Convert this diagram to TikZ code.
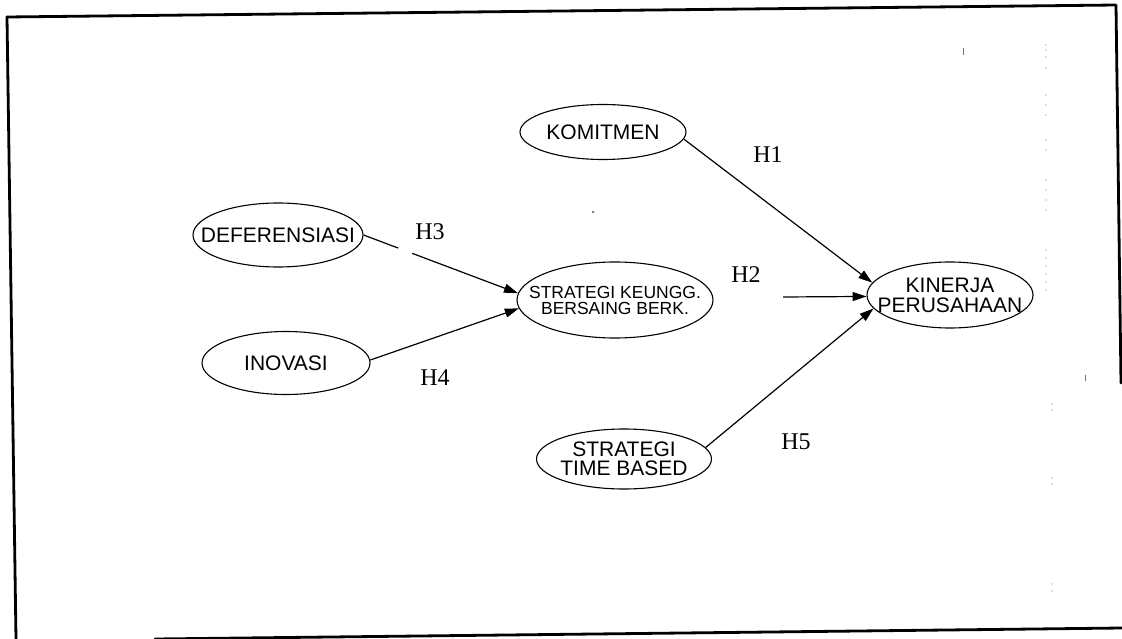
\documentclass[tikz,border=0pt]{standalone}
\usepackage{fontspec}
\setmainfont{Liberation Serif}
\newfontfamily\arialf{Liberation Sans}
\usetikzlibrary{arrows.meta,shapes.geometric}
\begin{document}
\begin{tikzpicture}[x=1pt,y=-1pt,
  ell/.style={draw, ellipse, line width=1.1pt, inner sep=-200pt, align=center,
    font=\arialf\fontsize{21}{20}\selectfont},
  arr/.style={line width=1.2pt, -{Triangle[length=14pt,width=9pt]}},
  hyp/.style={inner sep=0pt, font=\fontsize{24}{26}\selectfont},
  frameline/.style={line width=2.8pt, line cap=round, line join=round},
  speck/.style={fill=black!55}
]
\useasboundingbox (0,0) rectangle (1122,639);

% frame (slightly skewed scan)
\draw[frameline] (7,17) -- (1116,5) -- (1121,383);
\draw[frameline] (7,17) -- (16,639);
\draw[frameline] (155,639) -- (1122,628);

% nodes
\node[ell, minimum width=166pt, minimum height=55pt] (kom) at (603,132) {KOMITMEN};
\node[ell, minimum width=170pt, minimum height=64pt] (def) at (278,235) {DEFERENSIASI};
\node[ell, minimum width=168pt, minimum height=63pt] (ino) at (286,363) {INOVASI};
\node[ell, minimum width=196pt, minimum height=76pt,
      font=\arialf\fontsize{17.5}{16}\selectfont] (sk) at (615,300) {STRATEGI KEUNGG.\\BERSAING BERK.};
\node[ell, minimum width=166pt, minimum height=66pt] (kin) at (950,295) {KINERJA\\PERUSAHAAN};
\node[ell, minimum width=175pt, minimum height=60pt,
      font=\arialf\fontsize{21}{19.5}\selectfont] (stb) at (624,459) {STRATEGI\\TIME BASED};

% connectors
\coordinate (h2s) at (783,297);
\draw[arr] (kom.-5) -- (kin.171);
\draw[arr] (h2s) -- (kin.181);
\draw[arr] (stb.8) -- (kin.190);
\draw[arr, dash pattern=on 37pt off 15pt on 400pt] (def.0) -- (sk.176);
\draw[arr] (ino.2) -- (sk.185);

% hypothesis labels
\node[hyp] (h1) at (768,155) {H1};
\node[hyp] (h2) at (746,275) {H2};
\node[hyp] (h3) at (430,232) {H3};
\node[hyp] (h4) at (435,378) {H4};
\node[hyp] (h5) at (796,442) {H5};

% scan specks
\fill[speck] (593,212) circle (1.3pt);
\fill[speck] (962.5,48) rectangle (964,55);
\fill[speck] (1084.5,375) rectangle (1086,381);
\foreach \yy in {45,50,57,68,95,105,115,140,150,180,190,200,210,250,258,266,274,282,290}
  \fill[speck] (1046,\yy) circle (0.7pt);
\foreach \yy in {404,410,478,484,584,591}
  \fill[speck] (1052,\yy) circle (0.7pt);
\end{tikzpicture}
\end{document}
